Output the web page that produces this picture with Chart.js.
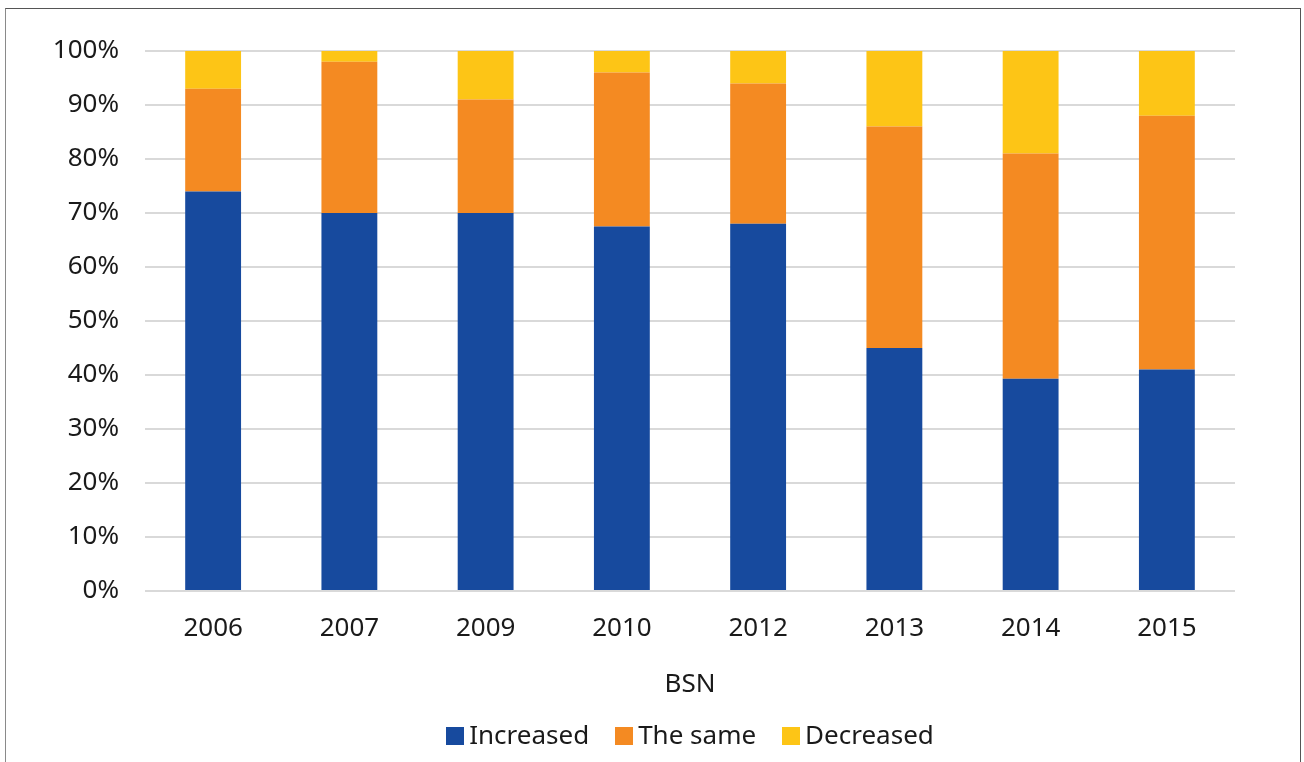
<!DOCTYPE html>
<html lang="en">
<head>
  <meta charset="UTF-8">
  <title>BSN</title>
  <script src="https://cdn.jsdelivr.net/npm/chart.js"></script>
  <style>
    html, body { margin: 0; padding: 0; background: #fff; }
    body { width: 1304px; height: 762px; position: relative; overflow: hidden; font-family: "Noto Sans", sans-serif; }
    #marco { position: absolute; left: 5px; top: 8px; width: 1294px; height: 800px; border: 1.5px solid #555; border-left-color: #8a8a8a; }
    #lienzo { position: absolute; left: 0; top: 0; }
    #leyenda { position: absolute; left: 145px; width: 1090px; top: 719px; height: 30px; display: flex; justify-content: center; align-items: center; font-size: 26px; color: #1a1a1a; }
    #leyenda .item { display: flex; align-items: center; margin: 0 13px; }
    #leyenda .caja { width: 18px; height: 18px; margin-right: 5px; margin-top: 3px; }
  </style>
</head>
<body>
  <div id="marco"></div>
  <canvas id="lienzo" width="1304" height="762"></canvas>
  <div id="leyenda"></div>

  <script>
    // Años de la encuesta
    const anios = ['2006', '2007', '2009', '2010', '2012', '2013', '2014', '2015'];

    // Porcentaje de respuestas por año
    const aumento = [74, 70, 70, 67.5, 68, 45, 39.3, 41];
    const igual = [19, 28, 21, 28.5, 26, 41, 41.7, 47];
    const disminuyo = [7, 2, 9, 4, 6, 14, 19, 12];

    const colores = ['#174a9e', '#f48a22', '#fdc516'];
    const nombres = ['Increased', 'The same', 'Decreased'];

    const fuente = { family: '"Noto Sans", sans-serif', size: 26 };

    const ctx = document.getElementById('lienzo').getContext('2d');
    const grafico = new Chart(ctx, {
      type: 'bar',
      data: {
        labels: anios,
        datasets: [aumento, igual, disminuyo].map((serie, i) => ({
          label: nombres[i],
          data: serie,
          backgroundColor: colores[i],
          borderWidth: 0,
          categoryPercentage: 1,
          barPercentage: 0.41
        }))
      },
      options: {
        responsive: false,
        animation: false,
        layout: { padding: { top: 51, right: 69, bottom: 40, left: 0 } },
        plugins: {
          legend: { display: false },
          tooltip: { enabled: false }
        },
        scales: {
          x: {
            stacked: true,
            grid: { display: false, drawTicks: false },
            border: { display: false },
            ticks: { font: fuente, color: '#1a1a1a', padding: 22, maxRotation: 0 },
            title: { display: true, text: 'BSN', font: fuente, color: '#1a1a1a', padding: { top: 0, bottom: 22 } },
            afterFit: s => { s.height = 131; }
          },
          y: {
            stacked: true,
            min: 0,
            max: 100,
            grid: { color: '#d9d9d9', lineWidth: 2, drawTicks: false },
            border: { display: false },
            ticks: {
              stepSize: 10,
              font: fuente,
              color: '#1a1a1a',
              padding: 26,
              callback: v => v + '%'
            },
            afterFit: s => { s.width = 145; }
          }
        }
      }
    });

    // Leyenda debajo del gráfico
    const leyenda = document.getElementById('leyenda');
    grafico.data.datasets.forEach(ds => {
      const item = document.createElement('div');
      item.className = 'item';
      const caja = document.createElement('span');
      caja.className = 'caja';
      caja.style.background = ds.backgroundColor;
      const texto = document.createElement('span');
      texto.textContent = ds.label;
      item.appendChild(caja);
      item.appendChild(texto);
      leyenda.appendChild(item);
    });
  </script>
</body>
</html>
